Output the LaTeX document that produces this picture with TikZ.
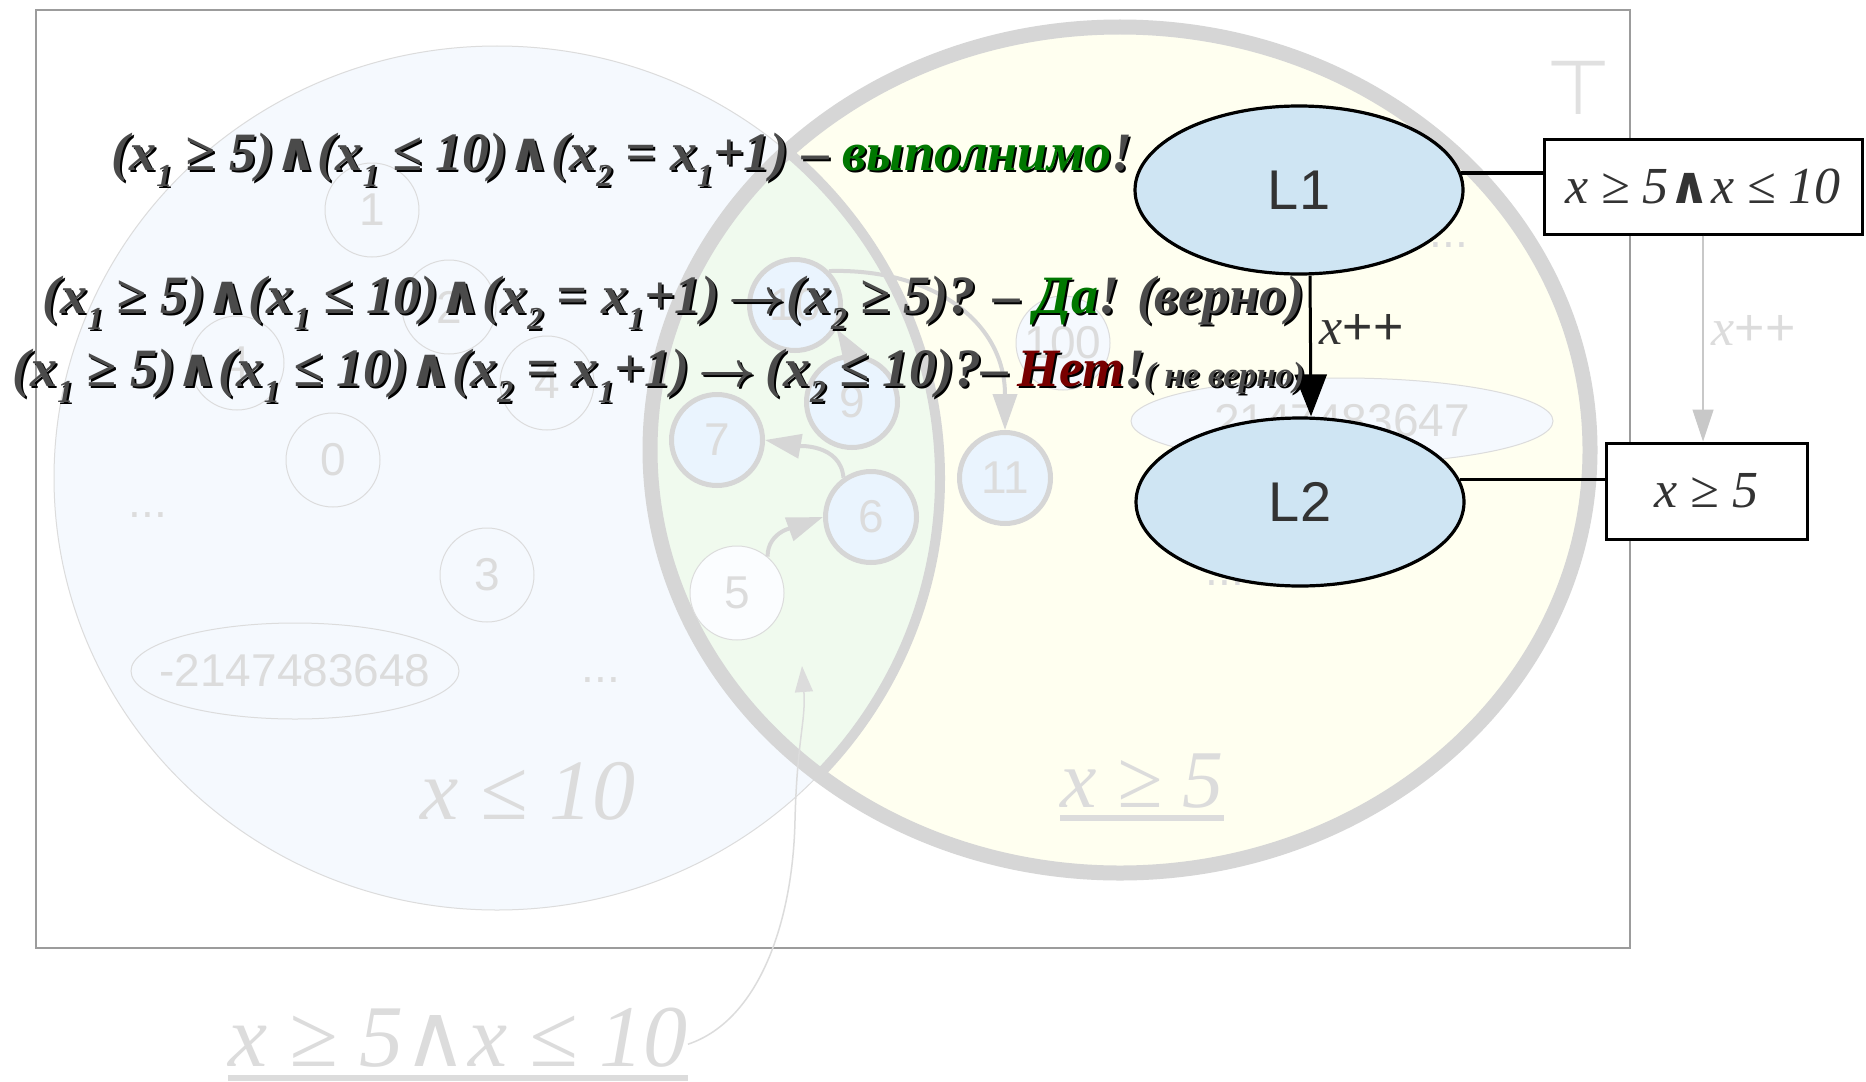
\documentclass[tikz,border=0pt]{standalone}
\usepackage{fontspec}
\setmainfont{Liberation Serif}
\newfontfamily\sansf{Liberation Sans}
\newfontfamily\djv{DejaVu Sans}
\usetikzlibrary{arrows.meta,shapes.geometric}
\definecolor{faint}{HTML}{DCDCDC}
\definecolor{ringgray}{HTML}{D6D6D6}
\definecolor{leftfill}{HTML}{F5F9FE}
\definecolor{rightfill}{HTML}{FFFFF0}
\definecolor{lensfill}{HTML}{F0FAEE}
\definecolor{cellfill}{HTML}{EAF4FE}
\definecolor{lfill}{HTML}{CFE5F3}
\definecolor{ftext}{HTML}{4A4A4A}
\definecolor{gcol}{HTML}{007800}
\definecolor{rcol}{HTML}{780000}
\definecolor{framegray}{HTML}{9C9C9C}
\definecolor{darktext}{HTML}{333333}
\definecolor{topgray}{HTML}{E0E0E0}
\definecolor{arrgray}{HTML}{C8C8C8}
\newcommand\sbs[1]{\raisebox{-0.3em}{\fontsize{16}{16}\selectfont #1}}
\newcommand\W{{\djv\bfseries\upshape ∧}}
\newcommand\AR{{\boldmath$\rightarrow$}}
\newcommand\shad[1]{\leavevmode\rlap{\kern1pt\raisebox{-1pt}{\color{black}\colorlet{gcol}{black}\colorlet{rcol}{black}#1}}#1}
\newcommand\ulbox[1]{\setbox0\hbox{#1}\rlap{\rule[-0.17em]{\wd0}{0.07em}}\box0}
\newcommand\FA{(x\sbs{1} ≥ 5)\W(x\sbs{1} ≤ 10)\W(x\sbs{2} = x\sbs{1}+1) – {\color{gcol}выполнимо}!}
\newcommand\FB{(x\sbs{1} ≥ 5)\W(x\sbs{1} ≤ 10)\W(x\sbs{2} = x\sbs{1}+1)\,\AR(x\sbs{2} ≥ 5)? – {\color{gcol}Да}! (верно)}
\newcommand\FC{(x\sbs{1} ≥ 5)\W(x\sbs{1} ≤ 10)\W(x\sbs{2} = x\sbs{1}+1)\,\AR\,(x\sbs{2} ≤ 10)?–\,{\color{rcol}Нет}!\kern-1pt{\fontsize{17.5}{17.5}\selectfont( не верно)}}
\tikzset{
  frm/.style={draw=framegray, line width=0.75pt},
  lcell/.style={circle, draw=faint, line width=0.5pt, minimum size=47pt, inner sep=0pt, text=faint, font=\sansf\fontsize{23}{23}\selectfont},
  rcell/.style={circle, draw=ringgray, line width=2.5pt, fill=cellfill, minimum size=45.5pt, inner sep=0pt, text=faint, font=\sansf\fontsize{23}{23}\selectfont},
  valtext/.style={text=faint, font=\sansf\fontsize{23}{23}\selectfont, inner sep=0pt},
  valring/.style={draw=faint, line width=0.5pt},
  cellarrow/.style={draw=ringgray, line width=2pt, -{Triangle[length=18pt,width=12pt]}},
  annarrow/.style={draw=faint, line width=0.75pt, -{Triangle[length=13pt,width=9pt]}},
  formula/.style={anchor=base west, inner sep=0pt, text=ftext, font=\fontsize{27}{27}\selectfont\bfseries\itshape},
  loc/.style={ellipse, draw=black, line width=1.6pt, fill=lfill, minimum width=164pt, minimum height=84pt, inner sep=0pt, text=darktext, font=\sansf\fontsize{28}{28}\selectfont},
  cond/.style={rectangle, draw=black, line width=1.5pt, fill=white, inner sep=0pt, text=darktext, font=\fontsize{26}{26}\selectfont\itshape},
  conn/.style={draw=black, line width=1.6pt},
  steparrow/.style={draw=black, line width=1.5pt, -{Triangle[length=21pt,width=16pt]}},
  faintarrow/.style={draw=arrgray, line width=0.6pt, -{Triangle[length=16pt,width=10.5pt]}},
  bigfaint/.style={text=faint, font=\fontsize{44}{44}\selectfont\itshape, inner sep=0pt},
  lbl/.style={text=darktext, font=\fontsize{26}{26}\selectfont, inner sep=0pt}
}
\begin{document}
\begin{tikzpicture}[x=0.5pt,y=-0.5pt]
\path[use as bounding box, fill=white] (0,0) rectangle (1866,1081);
\draw[frm] (36,10) rectangle (1630,948);
% left set x <= 10
\fill[leftfill] (497,478) ellipse [x radius=221.5pt, y radius=216pt];
\draw[faint, line width=0.5pt] (497,478) ellipse [x radius=221.5pt, y radius=216pt];
% right set x >= 5
\fill[rightfill] (1120,450) ellipse [x radius=235pt, y radius=211.5pt];
\begin{scope}
  \clip (1120,450) ellipse [x radius=235pt, y radius=211.5pt];
  \fill[lensfill] (497,478) ellipse [x radius=221.5pt, y radius=216pt];
  \draw[ringgray, line width=5pt] (497,478) ellipse [x radius=221.5pt, y radius=216pt];
\end{scope}
\draw[ringgray, line width=7.5pt] (1120,450) ellipse [x radius=235pt, y radius=211.5pt];
% left values
\node[lcell] (c1) at (372,210) {1};
\node[lcell] (c2) at (449,307) {2};
\node[lcell] (c4b) at (237,363) {4};
\node[lcell] (c4) at (547,383) {4};
\node[lcell] (c0) at (333,460) {0};
\node[lcell] (c3) at (487,575) {3};
\node[valtext] (cmin) at (295,671) {-2147483648};
\draw[valring] (cmin.center) ellipse [x radius=82pt, y radius=24pt];
\node[valtext] (d1) at (148,515) {...};
\node[valtext] (d2) at (601,680) {...};
% right values
\node[lcell, fill=leftfill] (c100) at (1063,343) {100};
\fill[leftfill] (1342,421) ellipse [x radius=105.5pt, y radius=21.5pt];
\draw[valring] (1342,421) ellipse [x radius=105.5pt, y radius=21.5pt];
\node[valtext] (cmax) at (1342,421) {2147483647};
\node[valtext] (d3) at (1449,245) {...};
\node[valtext] (d4) at (1225,583) {...};
\node[rcell] (c10) at (795,305) {10};
\node[rcell] (c9) at (852,402) {9};
\node[rcell] (c7) at (717,440) {7};
\node[rcell] (c6) at (871,517) {6};
\node[rcell] (c11) at (1005,478) {11};
\node[lcell, fill=white!60!leftfill] (c5) at (737,593) {5};
\draw[cellarrow] (c5.50) to[out=90,in=200] (c6.west);
\draw[cellarrow] (c6.125) to[out=95,in=-10] (c7.east);
\draw[cellarrow] (c9.north) -- (c10.-30);
\draw[cellarrow] (c10.45) .. controls (930,268) and (1005,320) .. (c11.north);
% set labels
\node[bigfaint, anchor=base, font=\fontsize{43}{43}\selectfont\itshape] (llabel) at (528,819) {x ≤ 10};
\node[bigfaint, anchor=base, font=\fontsize{41}{41}\selectfont\itshape] (rlabel) at (1142,807) {\ulbox{x ≥ 5}};
\node[bigfaint, anchor=base] (blabel) at (458,1066) {\ulbox{x ≥ 5{\djv ∧}x ≤ 10}};
\coordinate (lensp) at (802,666);
\draw[annarrow] (blabel.east) .. controls (760,1020) and (793,920) .. (795,820) .. controls (797,740) and (806,720) .. (lensp);
\node[text=topgray, font=\djv\fontsize{38}{38}\selectfont, inner sep=0pt] (topsym) at (1579,88) {⊤};
% program locations
\node[loc] (L1) at (1299,190) {L1};
\node[loc] (L2) at (1300,502) {L2};
\node[cond, minimum width=159pt, minimum height=47.5pt] (b1) at (1703,186.5) {x ≥ 5\W x ≤ 10};
\node[cond, minimum width=100.5pt, minimum height=48pt] (b2) at (1706.5,491) {x ≥ 5};
\draw[conn, line width=2pt] (L1.6) -- (L1.6 -| b1.west);
\draw[conn] (L2.8) -- (L2.8 -| b2.west);
\draw[steparrow] ([xshift=5.5pt]L1.south) -- node[lbl, pos=0.38, anchor=west, xshift=4pt] (inc1) {{\itshape x}{\sansf ++}} ([xshift=5.5pt]L2.north);
\draw[faintarrow] (b1.south) -- node[lbl, text=faint, pos=0.46, anchor=west, xshift=4pt] (inc2) {{\itshape x}{\sansf ++}} (b1.south |- b2.north);
% formulas
\node[formula] (f1) at (111,170) {\shad{\FA}};
\node[formula] (f2) at (42,313) {\shad{\FB}};
\node[formula] (f3) at (12,386) {\shad{\FC}};
\end{tikzpicture}
\end{document}
